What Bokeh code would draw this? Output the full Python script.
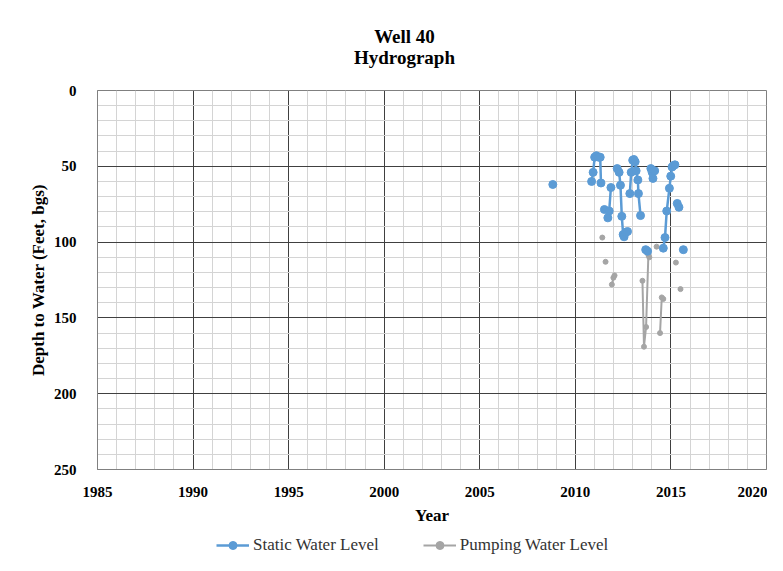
import math
from bokeh.plotting import figure
from bokeh.layouts import column
from bokeh.models import (ColumnDataSource, Range1d, SingleIntervalTicker, Legend,
                          LegendItem)
from bokeh.core.properties import value
from bokeh.embed import file_html
from bokeh.resources import INLINE

nan = float("nan")

# Static water level (depth, feet bgs); NaN marks a break in the line
static_year = [2008.82, nan,
               2010.85, 2010.93, 2011.01, 2011.10, 2011.22, 2011.30, 2011.34, nan,
               2011.52, nan,
               2011.70, 2011.77, 2011.86, nan,
               2012.19, 2012.29, 2012.36, 2012.43, 2012.50, 2012.55, 2012.64, 2012.73, nan,
               2012.85, 2012.92, 2013.00, 2013.06, 2013.13, 2013.18, 2013.27, 2013.30, 2013.41, nan,
               2013.68, 2013.78, nan,
               2013.95, 2014.02, 2014.06, 2014.15, nan,
               2014.60, 2014.69, 2014.78, 2014.92, 2014.99, 2015.06, 2015.13, 2015.21, nan,
               2015.33, 2015.42, nan,
               2015.65]
static_depth = [62, nan,
                60, 54, 44, 43, 44, 44, 61, nan,
                78.5, nan,
                84, 79.5, 64, nan,
                51.5, 54, 62.5, 83, 95, 96.5, 93.5, 93, nan,
                68, 54, 46, 45.5, 47, 53, 59, 68, 82.5, nan,
                105, 106, nan,
                51.5, 54, 58, 53, nan,
                104, 97, 79.5, 64.5, 56.5, 50.5, 49.5, 49, nan,
                74.5, 77, nan,
                105]

# Pumping water level (depth, feet bgs)
pump_year = [2011.41, nan,
             2011.58, nan,
             2011.91, 2011.99, 2012.05, nan,
             2013.51, 2013.59, 2013.70, 2013.82, 2013.87, nan,
             2014.25, nan,
             2014.43, 2014.52, 2014.60, nan,
             2015.26, nan,
             2015.50]
pump_depth = [97, nan,
              113, nan,
              128, 123.5, 122, nan,
              125.5, 169, 156, 108.5, 110, nan,
              103, nan,
              160, 136.5, 137.5, nan,
              113.5, nan,
              131]

title_lines = ["Well 40", "Hydrograph"]
series_names = ["Static Water Level", "Pumping Water Level"]

x_start, x_end = 1985, 2020
y_top, y_bottom = 0, 250

static_color = "#5B9BD5"
pump_color = "#A5A5A5"
serif = "Liberation Serif"
W = 767
LEFT, RIGHT = 97, 1          # frame borders shared by all three stacked figures
TITLE_H = 80

# ---- title strip (pixel coordinates) ----
t = figure(width=W, height=TITLE_H, output_backend="svg", toolbar_location=None,
           x_range=Range1d(LEFT, W - RIGHT), y_range=Range1d(TITLE_H, 0),
           x_axis_location=None, y_axis_location=None,
           min_border_left=LEFT, min_border_right=RIGHT, min_border_top=0,
           min_border_bottom=0, outline_line_color=None)
t.grid.visible = False
t.text(x=[404, 404], y=[36, 57], text=title_lines, text_align="center",
       text_baseline="middle", text_font=value(serif), text_font_size="19px",
       text_font_style="bold", text_color="#000000")

# ---- main chart ----
p = figure(width=W, height=451, output_backend="svg", toolbar_location=None,
           x_range=Range1d(x_start, x_end),
           y_range=Range1d(y_bottom, y_top),
           min_border_left=LEFT, min_border_right=RIGHT, min_border_top=10,
           min_border_bottom=62)
p.title = None

p.xaxis.ticker = SingleIntervalTicker(interval=5, num_minor_ticks=5)
p.yaxis.ticker = SingleIntervalTicker(interval=50, num_minor_ticks=5)

for ax in (p.xaxis, p.yaxis):
    ax.major_label_text_font = serif
    ax.major_label_text_font_style = "bold"
    ax.major_label_text_font_size = "15px"
    ax.major_label_text_color = "#000000"
    ax.axis_label_text_font = serif
    ax.axis_label_text_font_style = "bold"
    ax.axis_label_text_font_size = "17px"
    ax.axis_label_text_color = "#000000"
    ax.major_tick_line_color = None
    ax.minor_tick_line_color = None
    ax.axis_line_color = "#808080"

p.xaxis.axis_label = "Year"
p.yaxis.axis_label = "Depth to Water (Feet, bgs)"
p.xaxis.major_label_standoff = 11
p.yaxis.major_label_standoff = 15
p.xaxis.axis_label_standoff = 6
p.yaxis.axis_label_standoff = 3

for g in (p.xgrid, p.ygrid):
    g.grid_line_color = "#404040"
    g.grid_line_width = 1
    g.minor_grid_line_color = "#d4d4d4"
    g.minor_grid_line_width = 1

p.outline_line_color = "#808080"

src_s = ColumnDataSource(dict(x=static_year, y=static_depth))
src_p = ColumnDataSource(dict(x=pump_year, y=pump_depth))

p.line("x", "y", source=src_p, line_color=pump_color, line_width=2)
p.scatter("x", "y", source=src_p, size=5, fill_color=pump_color, line_color=pump_color)
p.line("x", "y", source=src_s, line_color=static_color, line_width=2.5)
p.scatter("x", "y", source=src_s, size=8, fill_color=static_color, line_color=static_color)

# ---- legend strip ----
lg = figure(width=W, height=24, output_backend="svg", toolbar_location=None,
            x_range=Range1d(0, 1), y_range=Range1d(0, 1),
            x_axis_location=None, y_axis_location=None,
            min_border_left=LEFT, min_border_right=RIGHT, min_border_top=0,
            min_border_bottom=0, outline_line_color=None)
lg.grid.visible = False
blank = dict(x=[nan], y=[nan])
ls = lg.line("x", "y", source=ColumnDataSource(blank), line_color=static_color, line_width=2.5)
ss = lg.scatter("x", "y", source=ColumnDataSource(blank), size=5,
                fill_color=static_color, line_color=static_color)
lp = lg.line("x", "y", source=ColumnDataSource(blank), line_color=pump_color, line_width=2)
sp = lg.scatter("x", "y", source=ColumnDataSource(blank), size=3,
                fill_color=pump_color, line_color=pump_color)
legend = Legend(items=[LegendItem(label=series_names[0], renderers=[ls, ss]),
                       LegendItem(label=series_names[1], renderers=[lp, sp])],
                orientation="horizontal", location=(216 - LEFT, 0),
                label_text_font=serif, label_text_font_size="17px",
                label_text_color="#333333", border_line_color=None,
                background_fill_alpha=0, spacing=44, glyph_width=33,
                padding=2, margin=0, label_standoff=4)
lg.add_layout(legend, "center")

layout = column(t, p, lg, spacing=0)
open("out.html", "w").write(file_html(layout, INLINE))
